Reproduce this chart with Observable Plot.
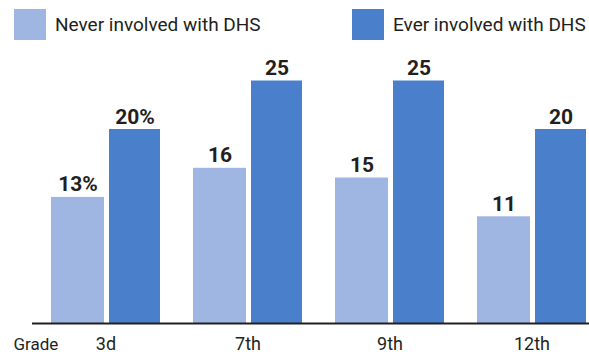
<!DOCTYPE html>
<html>
<head>
<meta charset="utf-8">
<script src="https://cdn.jsdelivr.net/npm/d3@7"></script>
<script src="https://cdn.jsdelivr.net/npm/@observablehq/plot@0.6"></script>
<style>
  html, body { margin: 0; padding: 0; background: #fff; }
  #chart { width: 589px; font-family: Roboto, sans-serif; color: #231f20; }
  #legend { position: relative; height: 48px; font-size: 19px; }
  .item { position: absolute; top: 9px; display: flex; align-items: center; height: 31px; white-space: nowrap; }
  .swatch { width: 32px; height: 31px; margin-right: 9px; flex: none; }
  svg { display: block; }
</style>
</head>
<body>
<div id="chart">
  <div id="legend"></div>
</div>
<script>
const grades = ["3d", "7th", "9th", "12th"];
const series = ["Never involved with DHS", "Ever involved with DHS"];
const neverValues = [13, 16, 15, 11];
const everValues = [20, 25, 25, 20];
const colors = ["#9fb6e2", "#4a7fcb"];
const axisTitle = "Grade";

const neverData = grades.map((g, i) => ({grade: g, value: neverValues[i]}));
const everData = grades.map((g, i) => ({grade: g, value: everValues[i]}));
const fmt = d => d.grade === grades[0] ? d.value + "%" : String(d.value);

// legend
const legend = document.getElementById("legend");
const legendLeft = [14, 352];
series.forEach((s, i) => {
  const item = document.createElement("div");
  item.className = "item";
  item.style.left = legendLeft[i] + "px";
  const sw = document.createElement("div");
  sw.className = "swatch";
  sw.style.background = colors[i];
  const t = document.createElement("span");
  t.textContent = s;
  item.append(sw, t);
  legend.append(item);
});

const ink = "#231f20";
const labelStyle = {fontSize: 21, fontWeight: "bold", fill: ink, lineAnchor: "bottom", dy: -6};

const chart = Plot.plot({
  width: 589,
  height: 306,
  marginLeft: 32,
  marginRight: 0,
  marginTop: 32.5,
  marginBottom: 31,
  x: {domain: grades, paddingInner: 0.2308, paddingOuter: 0.063, align: 0.87, label: null},
  y: {domain: [0, 25], axis: null},
  style: {fontFamily: "Roboto, sans-serif", fontSize: "17px", color: ink, background: "#fff"},
  marks: [
    Plot.barY(neverData, {x: "grade", y: "value", fill: colors[0], insetRight: 56}),
    Plot.barY(everData, {x: "grade", y: "value", fill: colors[1], insetLeft: 58}),
    Plot.ruleY([0], {stroke: ink, strokeWidth: 2}),
    Plot.text(neverData, {x: "grade", y: "value", text: fmt, dx: -28, ...labelStyle}),
    Plot.text(everData, {x: "grade", y: "value", text: fmt, dx: 29, ...labelStyle}),
    Plot.axisX({tickSize: 0, tickPadding: 14, fontSize: 18, label: null, fill: ink}),
    Plot.text([axisTitle], {text: d => d, frameAnchor: "bottom-left", textAnchor: "start", lineAnchor: "top", dx: -19, dy: 14, fontSize: 17, fill: ink})
  ]
});
document.getElementById("chart").append(chart);
</script>
</body>
</html>
